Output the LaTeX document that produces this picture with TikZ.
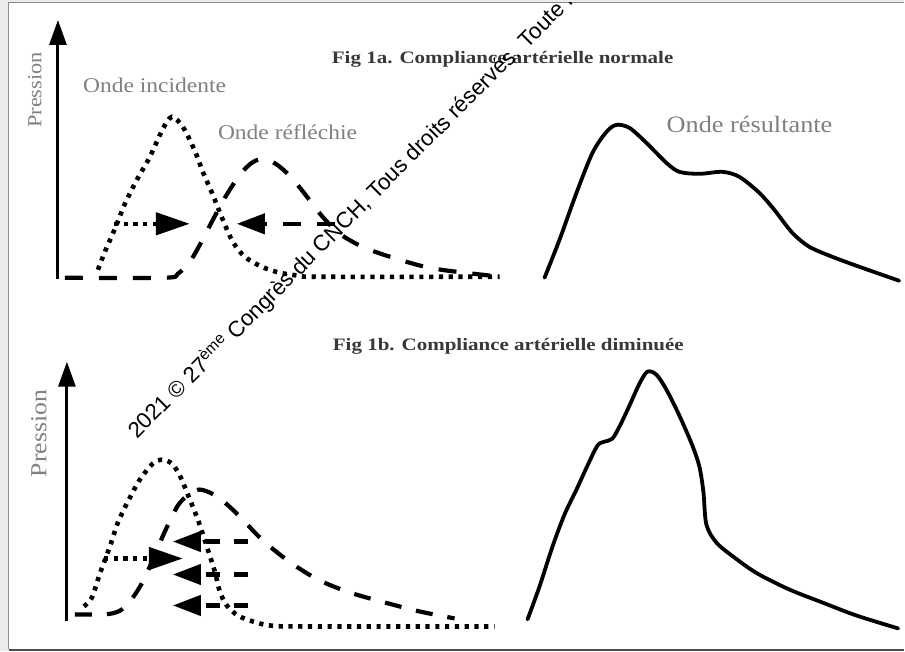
\documentclass[tikz,border=0pt]{standalone}
\usepackage{fontspec}
\setmainfont{Liberation Serif}
\newfontfamily\labelfont[FakeStretch=1.12]{Liberation Serif}
\newfontfamily\titlefont[FakeStretch=1.2]{Liberation Serif}
\newfontfamily\wmfont{Liberation Sans}
\usetikzlibrary{arrows.meta, calc}

\begin{document}
\begin{tikzpicture}[
        x=1pt, y=-1pt,
        dotwave/.style={line width=4.6pt, dash pattern=on 4.2pt off 5.6pt},
        dashwave/.style={line width=4.2pt, dash pattern=on 18pt off 16pt},
        solidwave/.style={line width=3.8pt, line join=round, line cap=round},
        yaxis/.style={line width=3pt, -{Triangle[length=25pt, width=17pt]}},
        rhead/.style={-{Triangle[length=34pt, width=22pt]}},
        lhead/.style={-{Triangle[length=28pt, width=20pt]}},
        lbl/.style={text=black!50, font=\labelfont\fontsize{21}{24}\selectfont, inner sep=0pt, anchor=base west},
        ttl/.style={text=black!78, font=\titlefont\bfseries\fontsize{17.5}{20}\selectfont, inner sep=0pt, anchor=base west},
        pres/.style={text=black!50, inner sep=0pt, rotate=90},
        wm/.style={font=\wmfont\fontsize{22.3}{24}\selectfont, inner sep=0pt, anchor=base west, rotate=45}
    ]
    \fill[black!8] (0,0) rectangle (905,652);
    \fill[white] (9,3) rectangle (905,650);
    \draw[black!45, line width=1pt] (905,3) -- (9,3) -- (9,650);
    \draw[black!70, line width=1.6pt] (9,650.5) -- (905,650.5);

    % Fig 1a
    \node[ttl] (titleA) at (332,64) {Fig 1a. Compliance artérielle normale};
    \node[pres, font=\labelfont\fontsize{20}{24}\selectfont] (presA) at (35,90) {Pression};
    \node[lbl] (incA) at (83,93) {Onde incidente};
    \node[lbl] (refA) at (218,140) {Onde réfléchie};
    \node[lbl, font=\labelfont\fontsize{23.5}{26}\selectfont] (resA) at (667,133) {Onde résultante};

    \coordinate (origA) at (58,279);
    \coordinate (topA) at (58,20);
    \draw[yaxis] (origA) -- (topA);

    \draw[dashwave] plot[smooth] coordinates {(65,278) (165,278) (178,274) (190,262) (200,245) (212,222)
        (225,198) (240,175) (252,163) (263,159) (276,164) (290,176) (305,194) (322,216) (340,234)
        (365,248) (400,260) (435,269) (492,276)};
    \draw[dotwave] plot[smooth] coordinates {(98,270) (105,252) (115,229) (125,204) (137,180) (150,157)
        (163,129) (172,117) (183,127) (195,151) (203,172) (213,195) (223,220) (233,242) (245,257)
        (262,267) (280,273) (300,276) (320,277) (500,277)};
    \draw[solidwave] plot[smooth] coordinates {(545,278) (560,240) (577,193) (593,153) (607,132)
        (617,125) (630,128) (647,143) (667,163) (680,172) (700,174) (723,172) (740,177) (760,193)
        (775,210) (793,233) (810,247) (833,257) (860,267) (900,281)};

    \coordinate (incAfrom) at (114,224);
    \coordinate (incAto) at (190,224);
    \coordinate (refAfrom) at (335,224);
    \coordinate (refAto) at (237,224);
    \draw[dotwave, rhead] (incAfrom) -- (incAto);
    \draw[dashwave, lhead] (refAfrom) -- (refAto);

    % Fig 1b
    \node[ttl] (titleB) at (333,351) {Fig 1b. Compliance artérielle diminuée};
    \node[pres, font=\labelfont\fontsize{23}{26}\selectfont] (presB) at (39,434) {Pression};

    \coordinate (origB) at (67,622);
    \coordinate (topB) at (67,362);
    \draw[yaxis] (origB) -- (topB);

    \draw[dashwave, dash pattern=on 17pt off 15pt] plot[smooth] coordinates {(75,615) (100,615) (112,614)
        (122,610) (133,598) (143,582) (153,560) (165,532) (178,506) (190,494) (200,490) (212,494)
        (225,503) (240,517) (258,536) (275,551) (295,566) (320,581) (350,593) (385,603) (420,612)
        (455,619)};
    \draw[dotwave] plot[smooth] coordinates {(84,607) (92,598) (100,574) (110,547) (118,523) (128,502)
        (140,480) (153,464) (162,460) (172,464) (180,476) (188,495) (198,520) (207,547) (215,572)
        (220,592) (227,606) (238,616) (253,622) (270,626) (300,627) (495,627)};
    \draw[solidwave] plot[smooth] coordinates {(528,620) (540,587) (553,547) (565,515) (577,490)
        (588,466) (598,446) (605,442) (613,439) (621,425) (630,406) (640,384) (648,372) (657,375)
        (667,390) (680,416) (693,446) (700,467) (704,492) (707,525) (717,543) (735,558) (758,574)
        (790,590) (823,603) (857,616) (899,629)};

    \coordinate (incBfrom) at (104,559);
    \coordinate (incBto) at (183,559);
    \draw[dotwave, rhead] (incBfrom) -- (incBto);
    \foreach \yy [count=\i] in {542,575,606} {
        \coordinate (refBfrom\i) at (248,\yy);
        \coordinate (refBto\i) at (173,\yy);
        \draw[dashwave, dash pattern=on 14pt off 14pt, lhead] (refBfrom\i) -- (refBto\i);
    }

    \begin{scope}
        \clip (9,3) rectangle (905,650);
        \node[wm] (mark) at (137,440) {2021 © 27\textsuperscript{ème} Congrès du CNCH, Tous droits réservés. Toute rep};
    \end{scope}
\end{tikzpicture}
\end{document}
